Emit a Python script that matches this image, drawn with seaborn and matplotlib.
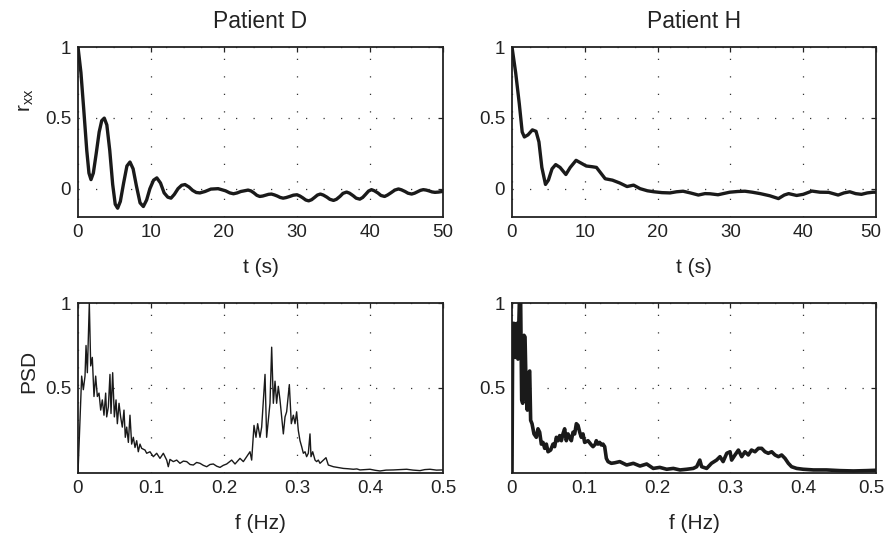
import numpy as np
import pandas as pd
import matplotlib
matplotlib.use("Agg")
import matplotlib.pyplot as plt
import matplotlib.transforms as mtransforms
import seaborn as sns

# ---------------- data ----------------
titles = ["Patient D", "Patient H"]

# Autocorrelation, Patient D
tD = [0, 0.4, 0.8, 1.2, 1.5, 1.78, 2.1, 2.5, 2.9, 3.25, 3.6, 3.95, 4.35, 4.75, 5.1, 5.43,
      5.8, 6.25, 6.7, 7.12, 7.55, 8.0, 8.5, 8.95, 9.4, 9.85, 10.35, 10.8, 11.3, 11.8, 12.3,
      12.74, 13.2, 13.7, 14.2, 14.66, 15.2, 15.7, 16.2, 16.7, 17.4, 18.2, 19.2, 20.2, 20.8,
      21.3, 21.8, 22.3, 23.3, 23.7, 24.1, 24.5, 24.9, 25.3, 25.7, 26.1, 26.5, 26.9, 27.3,
      27.7, 28.1, 28.5, 29.0, 29.5, 30.0, 30.4, 30.8, 31.2, 31.6, 32.0, 32.4, 32.8, 33.2,
      33.6, 34.1, 34.5, 35.0, 35.4, 35.9, 36.3, 36.8, 37.2, 37.7, 38.1, 38.6, 39.0, 39.4,
      39.8, 40.2, 40.6, 41.1, 41.5, 42.0, 42.4, 42.9, 43.4, 43.9, 44.3, 44.8, 45.2, 45.7,
      46.1, 46.5, 46.9, 47.3, 47.7, 48.1, 48.5, 48.9, 49.4, 50.0]
rD = [1.0, 0.82, 0.55, 0.27, 0.11, 0.064, 0.11, 0.25, 0.40, 0.48, 0.498, 0.45, 0.27, 0.03,
      -0.11, -0.138, -0.09, 0.04, 0.16, 0.188, 0.14, 0.02, -0.10, -0.126, -0.08, 0.0, 0.06,
      0.076, 0.04, -0.03, -0.06, -0.067, -0.04, 0.0, 0.024, 0.029, 0.012, -0.012, -0.027,
      -0.03, -0.02, -0.003, 0.0, -0.015, -0.03, -0.036, -0.03, -0.02, -0.01, -0.016, -0.03,
      -0.047, -0.055, -0.052, -0.046, -0.04, -0.038, -0.044, -0.052, -0.062, -0.067, -0.063,
      -0.055, -0.046, -0.043, -0.052, -0.065, -0.08, -0.086, -0.078, -0.062, -0.045, -0.038,
      -0.045, -0.06, -0.075, -0.083, -0.075, -0.054, -0.033, -0.024, -0.032, -0.05, -0.067,
      -0.074, -0.062, -0.04, -0.017, -0.007, -0.015, -0.031, -0.048, -0.055, -0.045, -0.028,
      -0.01, -0.002, -0.008, -0.02, -0.032, -0.038, -0.032, -0.022, -0.012, -0.007, -0.01,
      -0.016, -0.023, -0.026, -0.024, -0.019]

# Autocorrelation, Patient H
tH = [0, 0.5, 1.0, 1.4, 1.7, 2.2, 2.8, 3.3, 3.7, 4.1, 4.6, 5.0, 5.5, 6.0, 6.6, 7.4, 8.0,
      8.8, 9.5, 10.2, 11.0, 11.6, 12.2, 12.8, 13.8, 14.8, 15.8, 16.7, 17.6, 18.6, 19.5,
      20.6, 21.7, 22.6, 23.5, 24.5, 25.6, 26.5, 27.2, 28.3, 29.9, 31.0, 32.0, 33.0, 34.1,
      35.4, 36.6, 37.4, 38.0, 39.1, 40.0, 41.2, 42.3, 43.5, 44.8, 45.6, 46.4, 47.2, 48.0,
      48.8, 49.6, 50.0]
rH = [1.0, 0.82, 0.6, 0.40, 0.365, 0.38, 0.415, 0.405, 0.33, 0.15, 0.03, 0.06, 0.14, 0.17,
      0.15, 0.10, 0.15, 0.20, 0.18, 0.16, 0.155, 0.15, 0.11, 0.07, 0.06, 0.04, 0.015,
      0.025, 0.0, -0.015, -0.022, -0.028, -0.03, -0.022, -0.018, -0.03, -0.045, -0.035,
      -0.036, -0.043, -0.025, -0.02, -0.018, -0.025, -0.035, -0.05, -0.07, -0.045, -0.035,
      -0.048, -0.04, -0.017, -0.025, -0.026, -0.045, -0.03, -0.022, -0.035, -0.04, -0.03,
      -0.025, -0.025]

# PSD, Patient D
fD = [0.0, 0.005, 0.0073, 0.0096, 0.011, 0.0128, 0.0155, 0.0174, 0.0196, 0.0219, 0.0242,
      0.0265, 0.0288, 0.0311, 0.0333, 0.0356, 0.0379, 0.0393, 0.0416, 0.0438, 0.0452,
      0.0475, 0.0498, 0.0521, 0.0539, 0.0562, 0.0584, 0.0607, 0.063, 0.0648, 0.0667,
      0.069, 0.0712, 0.0735, 0.0758, 0.0781, 0.0804, 0.0826, 0.0849, 0.0872, 0.0918,
      0.0941, 0.0986, 0.1032, 0.1078, 0.1123, 0.1169, 0.1215, 0.1237, 0.126, 0.1306,
      0.1352, 0.1397, 0.1443, 0.1489, 0.1535, 0.158, 0.1625, 0.1671, 0.1717, 0.1763,
      0.1808, 0.1854, 0.19, 0.1945, 0.199, 0.2037, 0.2105, 0.2151, 0.2219, 0.2265,
      0.231, 0.2356, 0.2379, 0.2411, 0.2438, 0.2461, 0.2493, 0.2516, 0.2562, 0.2584,
      0.2607, 0.263, 0.2653, 0.2676, 0.2699, 0.2721, 0.2744, 0.2767, 0.2813, 0.2836,
      0.2858, 0.2895, 0.2922, 0.295, 0.2973, 0.2995, 0.3018, 0.3041, 0.3064, 0.3087,
      0.311, 0.3132, 0.3155, 0.3178, 0.3192, 0.3215, 0.3247, 0.3269, 0.3292, 0.3315,
      0.3361, 0.3397, 0.3429, 0.3498, 0.357, 0.3635, 0.37, 0.3772, 0.382, 0.3863, 0.393,
      0.4, 0.407, 0.4137, 0.422, 0.432, 0.441, 0.4502, 0.459, 0.4685, 0.475, 0.4822,
      0.491, 0.4995]
pD = [0.0, 0.57, 0.49, 0.57, 0.75, 0.59, 1.0, 0.63, 0.68, 0.45, 0.57, 0.45, 0.47, 0.37,
      0.43, 0.34, 0.47, 0.33, 0.39, 0.58, 0.35, 0.59, 0.33, 0.43, 0.29, 0.41, 0.33, 0.27,
      0.37, 0.21, 0.27, 0.18, 0.34, 0.17, 0.21, 0.15, 0.19, 0.125, 0.17, 0.145, 0.135,
      0.116, 0.125, 0.096, 0.116, 0.086, 0.116, 0.076, 0.037, 0.08, 0.067, 0.076, 0.057,
      0.07, 0.067, 0.05, 0.047, 0.062, 0.057, 0.045, 0.037, 0.05, 0.053, 0.04, 0.033,
      0.045, 0.053, 0.076, 0.053, 0.086, 0.067, 0.096, 0.125, 0.076, 0.28, 0.21, 0.29,
      0.21, 0.27, 0.58, 0.21, 0.31, 0.41, 0.74, 0.41, 0.54, 0.41, 0.51, 0.43, 0.23, 0.33,
      0.36, 0.52, 0.29, 0.34, 0.29, 0.36, 0.25, 0.19, 0.155, 0.116, 0.125, 0.096, 0.116,
      0.23, 0.096, 0.125, 0.076, 0.067, 0.076, 0.057, 0.076, 0.09, 0.047, 0.037, 0.032,
      0.027, 0.025, 0.022, 0.024, 0.018, 0.02, 0.022, 0.016, 0.012, 0.017, 0.018, 0.02,
      0.022, 0.017, 0.014, 0.02, 0.022, 0.017, 0.018]

# PSD, Patient H
fH = [0.0, 0.001, 0.0027, 0.0046, 0.0064, 0.0082, 0.0101, 0.0119, 0.0133, 0.0147, 0.0165,
      0.0179, 0.0197, 0.0211, 0.0229, 0.0243, 0.0256, 0.0275, 0.0302, 0.0334, 0.0357,
      0.038, 0.0403, 0.0426, 0.0449, 0.0472, 0.0495, 0.0531, 0.0563, 0.0586, 0.0609,
      0.0632, 0.0655, 0.0678, 0.07, 0.0723, 0.0746, 0.0769, 0.0792, 0.0815, 0.0838,
      0.0861, 0.0884, 0.0907, 0.093, 0.0952, 0.0975, 0.0998, 0.1044, 0.109, 0.1113,
      0.1145, 0.1158, 0.1181, 0.1204, 0.1227, 0.125, 0.1273, 0.1296, 0.1319, 0.1364,
      0.141, 0.148, 0.1575, 0.1667, 0.1758, 0.185, 0.194, 0.203, 0.2125, 0.2216, 0.2308,
      0.24, 0.249, 0.2537, 0.258, 0.2605, 0.2674, 0.274, 0.281, 0.2857, 0.29, 0.295,
      0.2995, 0.3017, 0.3063, 0.311, 0.3155, 0.32, 0.3246, 0.329, 0.3338, 0.3384, 0.343,
      0.3475, 0.352, 0.3567, 0.3613, 0.366, 0.3704, 0.375, 0.3796, 0.384, 0.391, 0.4,
      0.414, 0.432, 0.4505, 0.469, 0.487, 0.5]
pH = [0.0, 0.88, 0.88, 0.68, 0.88, 0.67, 1.0, 1.0, 0.43, 0.41, 0.81, 0.80, 0.43, 0.37,
      0.59, 0.60, 0.31, 0.29, 0.23, 0.21, 0.26, 0.24, 0.17, 0.18, 0.145, 0.17, 0.125,
      0.135, 0.17, 0.155, 0.21, 0.19, 0.22, 0.19, 0.23, 0.26, 0.19, 0.23, 0.21, 0.19,
      0.24, 0.23, 0.29, 0.28, 0.24, 0.21, 0.23, 0.18, 0.19, 0.165, 0.155, 0.17, 0.19,
      0.17, 0.18, 0.165, 0.17, 0.155, 0.086, 0.067, 0.057, 0.06, 0.067, 0.047, 0.057,
      0.041, 0.053, 0.027, 0.033, 0.022, 0.027, 0.018, 0.022, 0.027, 0.037, 0.076, 0.037,
      0.027, 0.057, 0.076, 0.096, 0.067, 0.116, 0.125, 0.076, 0.106, 0.135, 0.096, 0.125,
      0.106, 0.135, 0.125, 0.145, 0.145, 0.125, 0.116, 0.125, 0.106, 0.096, 0.106, 0.086,
      0.057, 0.037, 0.027, 0.022, 0.018, 0.018, 0.014, 0.012, 0.014, 0.016]

t_ticks = [0, 10, 20, 30, 40, 50]
f_ticks = [0, 0.1, 0.2, 0.3, 0.4, 0.5]
f_ticklabels = ["0", "0.1", "0.2", "0.3", "0.4", "0.5"]
r_ticks = [0, 0.5, 1]
r_ticklabels = ["0", "0.5", "1"]
psd_ticks = [0.5, 1]
psd_ticklabels = ["0.5", "1"]

# ---------------- plotting ----------------
sns.set_theme(style="white")
plt.rcParams["font.family"] = ["Liberation Sans", "DejaVu Sans"]
plt.rcParams["mathtext.default"] = "regular"
ink = "#1a1a1a"
txt = "#222222"

fig = plt.figure(figsize=(8.87, 5.34), dpi=100)
W, H = 887, 534
def box(x0, y0, x1, y1):
    return [x0 / W, 1 - y1 / H, (x1 - x0) / W, (y1 - y0) / H]

axes = {
    "rD": fig.add_axes(box(78, 47, 443, 217)),
    "rH": fig.add_axes(box(512, 47, 876, 217)),
    "pD": fig.add_axes(box(78, 303, 443, 473)),
    "pH": fig.add_axes(box(512, 303, 876, 473)),
}

df_rD = pd.DataFrame({"t": tD, "r": rD})
df_rH = pd.DataFrame({"t": tH, "r": rH})
df_pD = pd.DataFrame({"f": fD, "p": pD})
df_pH = pd.DataFrame({"f": fH, "p": pH})

sns.lineplot(data=df_rD, x="t", y="r", ax=axes["rD"], color=ink, lw=2.4, sort=False,
             estimator=None)
sns.lineplot(data=df_rH, x="t", y="r", ax=axes["rH"], color=ink, lw=2.4, sort=False,
             estimator=None)
sns.lineplot(data=df_pD, x="f", y="p", ax=axes["pD"], color=ink, lw=1.0, sort=False,
             estimator=None)
sns.lineplot(data=df_pH, x="f", y="p", ax=axes["pH"], color=ink, lw=2.6, sort=False,
             estimator=None)

for key, ax in axes.items():
    for ln in ax.get_lines():
        ln.set_solid_joinstyle("round")
        ln.set_zorder(3)
    if key.startswith("r"):
        ax.set_xlim(0, 50)
        ax.set_ylim(-0.2, 1)
        ax.set_xticks(t_ticks)
        ax.set_xticklabels([str(v) for v in t_ticks])
        ax.set_yticks(r_ticks)
        ax.set_yticklabels(r_ticklabels)
        ax.set_xlabel("t (s)", fontsize=15, color=txt, labelpad=12)
    else:
        ax.set_xlim(0, 0.5)
        ax.set_ylim(0, 1)
        ax.set_xticks(f_ticks)
        ax.set_xticklabels(f_ticklabels)
        ax.set_yticks(psd_ticks)
        ax.set_yticklabels(psd_ticklabels)
        ax.set_xlabel("f (Hz)", fontsize=15, color=txt, labelpad=12)
    ax.set_ylabel("")
    ax.grid(True, linestyle=(0, (1, 13)), color="#333333", linewidth=0.9)
    ax.set_axisbelow(True)
    ax.tick_params(direction="in", length=3.5, width=0.9, top=True, right=True,
                   labelsize=13.5, colors=txt, pad=5)
    for s in ax.spines.values():
        s.set_linewidth(1.3)
        s.set_color(txt)
        s.set_visible(True)

# the last x tick label on the right-hand panels sits a little left (as in the reference)
shift = mtransforms.ScaledTranslation(-5 / 100, 0, fig.dpi_scale_trans)
for key in ("rH", "pH"):
    lbl = axes[key].get_xticklabels()[-1]
    lbl.set_transform(lbl.get_transform() + shift)

axes["rD"].set_title(titles[0], fontsize=16.5, color=txt, pad=14)
axes["rH"].set_title(titles[1], fontsize=16.5, color=txt, pad=14)
axes["rD"].set_ylabel("r$_{xx}$", fontsize=15, color=txt)
axes["rD"].yaxis.set_label_coords(-0.115, 0.69)
axes["pD"].set_ylabel("PSD", fontsize=15, color=txt)
axes["pD"].yaxis.set_label_coords(-0.11, 0.6)

fig.savefig("out.png", dpi=100)
